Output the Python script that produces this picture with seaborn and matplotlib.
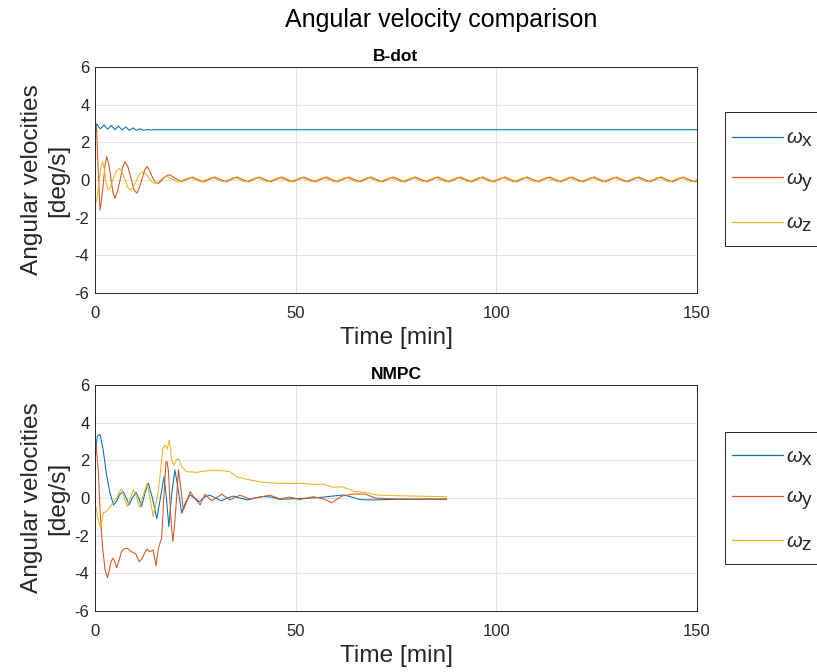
import numpy as np
import pandas as pd
import matplotlib
matplotlib.use("Agg")
import matplotlib.pyplot as plt
from matplotlib.patches import Rectangle
import seaborn as sns
try:
    import matplotlib._mathtext as _mt
    _mt.SHRINK_FACTOR = 0.95
except Exception:
    pass

# ---------------- data ----------------
labels = [r"$\omega_{\mathrm{x}}$", r"$\omega_{\mathrm{y}}$", r"$\omega_{\mathrm{z}}$"]
colors = ["#0072BD", "#D95319", "#EDB120"]

# B-dot panel
bdot_wx_step = 0.45
bdot_wx_vals = [2.85, 2.98, 2.82, 2.72, 2.82, 2.93, 2.80, 2.70, 2.79, 2.90, 2.78,
                2.68, 2.76, 2.86, 2.76, 2.66, 2.73, 2.82, 2.73, 2.64, 2.70, 2.77,
                2.70, 2.63, 2.68, 2.72, 2.67, 2.64, 2.66, 2.68, 2.67, 2.66, 2.67]
bdot_wx_end_t = [150.0]
bdot_wx_end_v = [2.67]

bdot_wy_t = [0, 0.35, 0.8, 1.25, 1.6, 2.07, 2.5, 2.9, 3.4, 3.95,
             4.5, 5.0, 5.6, 6.25, 6.9, 7.5, 8.2, 8.95, 9.7, 10.4,
             11.0, 11.7, 12.4, 13.0, 13.6, 14.4, 15.1, 15.8, 16.5, 17.3, 18.0]
bdot_wy_v = [2.3, 2.9, 0.5, -1.6, -1.1, -0.2, 0.8, 1.24, 0.9, 0.1,
             -0.7, -0.96, -0.6, 0.0, 0.7, 0.97, 0.7, 0.1, -0.5, -0.7,
             -0.45, 0.05, 0.55, 0.71, 0.5, 0.1, -0.12, -0.18, -0.05, 0.15, 0.25]
bdot_wy_tail_start = 18.7
bdot_tail_step = 1.39
bdot_wy_tail = [0.27, 0.08, -0.09, 0.03, 0.16, 0.03, -0.11, 0.03,
                0.16, 0.03, -0.10, 0.03, 0.16, 0.03, -0.10, 0.03,
                0.16, 0.03, -0.10, 0.03, 0.16, 0.03, -0.10, 0.03,
                0.16, 0.03, -0.10, 0.03, 0.16, 0.03, -0.10, 0.03,
                0.16, 0.03, -0.10, 0.03, 0.16, 0.03, -0.10, 0.03,
                0.16, 0.03, -0.10, 0.03, 0.16, 0.03, -0.10, 0.03,
                0.16, 0.03, -0.10, 0.03, 0.16, 0.03, -0.10, 0.03,
                0.16, 0.03, -0.10, 0.03, 0.16, 0.03, -0.10, 0.03,
                0.16, 0.03, -0.10, 0.03, 0.16, 0.03, -0.10, 0.03,
                0.16, 0.03, -0.10, 0.03, 0.16, 0.03, -0.10, 0.03,
                0.16, 0.03, -0.10, 0.03, 0.16, 0.03, -0.10, 0.03,
                0.16, 0.03, -0.10, 0.03, 0.16, 0.03, -0.10, 0.03]

bdot_wz_t = [0, 0.5, 1.0, 1.5, 1.9, 2.3, 2.7, 3.3, 3.8, 4.6,
             5.4, 6.1, 6.8, 7.5, 8.2, 8.9, 9.6, 10.4, 11.2, 12.0,
             12.8, 13.6, 14.3, 15.0, 15.8, 16.6, 17.3]
bdot_wz_v = [-1.3, -1.0, -0.1, 0.7, 0.97, 0.6, -0.1, -0.53, -0.4, 0.1,
             0.5, 0.62, 0.4, 0.0, -0.4, -0.53, -0.35, 0.0, 0.35, 0.44,
             0.3, 0.05, -0.12, -0.18, -0.1, 0.05, 0.15]
bdot_wz_tail_start = 18.0
bdot_wz_tail = [0.18, 0.03, -0.12, 0.02, 0.14, 0.02, -0.10, 0.02,
                0.14, 0.02, -0.10, 0.02, 0.14, 0.02, -0.10, 0.02,
                0.14, 0.02, -0.10, 0.02, 0.14, 0.02, -0.10, 0.02,
                0.14, 0.02, -0.10, 0.02, 0.14, 0.02, -0.10, 0.02,
                0.14, 0.02, -0.10, 0.02, 0.14, 0.02, -0.10, 0.02,
                0.14, 0.02, -0.10, 0.02, 0.14, 0.02, -0.10, 0.02,
                0.14, 0.02, -0.10, 0.02, 0.14, 0.02, -0.10, 0.02,
                0.14, 0.02, -0.10, 0.02, 0.14, 0.02, -0.10, 0.02,
                0.14, 0.02, -0.10, 0.02, 0.14, 0.02, -0.10, 0.02,
                0.14, 0.02, -0.10, 0.02, 0.14, 0.02, -0.10, 0.02,
                0.14, 0.02, -0.10, 0.02, 0.14, 0.02, -0.10, 0.02,
                0.14, 0.02, -0.10, 0.02, 0.14, 0.02, -0.10, 0.02, 0.14]

# NMPC panel
nmpc_wx_t = [0, 0.6, 1.25, 2.0, 2.9, 3.7, 4.6, 5.3, 6.2, 7.05,
             7.8, 8.5, 9.3, 10.2, 10.9, 11.6, 12.5, 13.3, 14.3, 15.4,
             16.3, 17.2, 17.8, 18.4, 19.1, 19.9, 20.7, 21.6, 22.6, 23.7,
             24.8, 26.0, 27.3, 28.6, 30, 31.5, 33, 34.5, 36, 38,
             40, 42, 44, 46, 48.5, 51, 54, 57, 60, 62,
             64, 66, 67.7, 70, 75, 80, 87.6]
nmpc_wx_v = [2.3, 3.3, 3.38, 2.6, 1.2, 0.3, -0.37, -0.2, 0.2, 0.34,
             0.0, -0.37, 0.0, 0.3, 0.0, -0.44, 0.3, 0.78, 0.0, -1.1,
             0.0, 1.13, 0.0, -1.52, 0.2, 1.49, 0.5, -0.81, -0.2, 0.16,
             0.0, -0.2, 0.05, 0.15, 0.0, -0.15, 0.0, 0.1, 0.0, -0.1,
             0.0, 0.08, 0.05, -0.07, -0.05, -0.03, 0.0, 0.05, 0.12, 0.16,
             0.05, -0.08, -0.1, -0.1, -0.07, -0.06, -0.05]

nmpc_wy_t = [0, 0.25, 0.8, 1.3, 1.9, 2.5, 3.1, 3.5, 3.9, 4.4,
             4.8, 5.4, 6.0, 6.6, 7.2, 7.9, 8.5, 9.1, 9.6, 10.2,
             11.0, 11.8, 12.4, 12.9, 13.7, 14.5, 15.2, 15.8, 16.6, 17.0,
             17.4, 17.7, 18.0, 18.3, 18.9, 19.4, 19.8, 20.2, 20.8, 21.4,
             22.0, 23.0, 23.7, 25.0, 26.2, 27.4, 29.1, 31.6, 33.6, 36.1,
             38.6, 41, 43.6, 46.1, 48.5, 51, 54.4, 57, 59, 61.5,
             64.4, 67.3, 69.8, 75, 87.6]
nmpc_wy_v = [2.6, 2.85, 1.5, -0.8, -2.65, -3.8, -4.23, -3.9, -3.45, -3.2,
             -3.3, -3.7, -3.3, -2.85, -2.7, -2.67, -2.75, -2.85, -2.9, -2.99,
             -3.38, -3.2, -2.9, -2.71, -2.85, -2.77, -3.6, -2.67, -2.14, -0.55,
             1.0, 1.93, 1.9, 1.4, -1.08, -2.32, -1.5, -0.37, 1.49, 0.5,
             -0.64, -0.1, 0.34, -0.05, -0.37, 0.2, -0.15, 0.2, -0.1, 0.15,
             -0.05, 0.05, 0.15, -0.05, 0.05, -0.08, 0.07, -0.05, -0.25, 0.1,
             0.21, 0.21, 0.0, -0.05, -0.08]

nmpc_wz_t = [0, 0.25, 0.8, 1.4, 2.1, 2.9, 3.7, 4.6, 5.4, 6.0,
             6.6, 7.3, 8.1, 8.8, 9.6, 10.4, 11.2, 12.1, 13.0, 13.7,
             14.5, 15.2, 15.8, 16.4, 16.9, 17.5, 18.0, 18.5, 19.1, 19.7,
             20.2, 20.8, 21.6, 22.8, 25.3, 28, 30.3, 33.6, 35.3, 38.6,
             41.9, 45.3, 48.6, 51, 54.4, 56.9, 59.4, 61.5, 64.8, 67.3,
             70.2, 75.1, 87.6]
nmpc_wz_v = [-0.3, -0.46, -1.2, -1.61, -0.8, -0.7, -0.5, -0.2, 0.0, 0.3,
             0.48, 0.0, -0.46, 0.0, 0.44, 0.0, -0.5, 0.2, 0.78, 0.0,
             -0.99, -0.3, 0.4, 1.6, 2.64, 2.8, 2.6, 3.08, 2.02, 1.75,
             2.0, 2.1, 1.67, 1.4, 1.36, 1.45, 1.49, 1.4, 1.12, 0.96,
             0.83, 0.78, 0.77, 0.78, 0.73, 0.73, 0.57, 0.6, 0.34, 0.3,
             0.16, 0.12, 0.07]

x_ticks = [0, 50, 100, 150]
y_ticks = [-6, -4, -2, 0, 2, 4, 6]
titles = ["B-dot", "NMPC"]

# ---------------- assemble ----------------
def frame(t, v, name):
    return pd.DataFrame({"t": np.asarray(t, float), "v": np.asarray(v, float), "s": name})

bdot_wx_t = list(bdot_wx_step * np.arange(len(bdot_wx_vals))) + bdot_wx_end_t
bdot_wy_full_t = bdot_wy_t + list(bdot_wy_tail_start + bdot_tail_step * np.arange(len(bdot_wy_tail)))
bdot_wz_full_t = bdot_wz_t + list(bdot_wz_tail_start + bdot_tail_step * np.arange(len(bdot_wz_tail)))

df_top = pd.concat([
    frame(bdot_wx_t, bdot_wx_vals + bdot_wx_end_v, labels[0]),
    frame(bdot_wy_full_t, bdot_wy_v + bdot_wy_tail, labels[1]),
    frame(bdot_wz_full_t, bdot_wz_v + bdot_wz_tail, labels[2]),
], ignore_index=True)
df_bot = pd.concat([
    frame(nmpc_wx_t, nmpc_wx_v, labels[0]),
    frame(nmpc_wy_t, nmpc_wy_v, labels[1]),
    frame(nmpc_wz_t, nmpc_wz_v, labels[2]),
], ignore_index=True)

# ---------------- style ----------------
sns.set_style("whitegrid")
plt.rcParams["font.family"] = ["Liberation Sans", "DejaVu Sans"]
plt.rcParams["mathtext.fontset"] = "custom"
plt.rcParams["mathtext.rm"] = "Liberation Sans"
plt.rcParams["mathtext.it"] = "Liberation Sans:italic"
plt.rcParams["axes.unicode_minus"] = False

fig = plt.figure(figsize=(8.17, 6.72), dpi=100)
fig.patch.set_facecolor("white")
W, H = 817.0, 672.0
ax_left, ax_right = 95 / W, 697 / W
axes = [
    fig.add_axes([ax_left, 1 - 293 / H, ax_right - ax_left, 226 / H]),
    fig.add_axes([ax_left, 1 - 611 / H, ax_right - ax_left, 226 / H]),
]
# legend frame boxes (pixels from top-left): left, top, bottom ; first-row anchor
legend_boxes = [(724.5, 111.7, 245.7), (724.5, 431.5, 564.0)]
legend_anchor_tops = [129.0, 447.5]
pal = dict(zip(labels, colors))

for ax, df, title, box, atop in zip(axes, [df_top, df_bot], titles,
                                     legend_boxes, legend_anchor_tops):
    sns.lineplot(data=df, x="t", y="v", hue="s", palette=pal, estimator=None,
                 sort=False, linewidth=0.75, ax=ax)
    ax.set_xlim(0, 150)
    ax.set_ylim(-6, 6)
    ax.set_xticks(x_ticks)
    ax.set_yticks(y_ticks)
    ax.grid(True, color="#e3e3e3", linewidth=0.8)
    for sp in ax.spines.values():
        sp.set_visible(True)
        sp.set_color("#262626")
        sp.set_linewidth(0.7)
    ax.tick_params(direction="in", length=4, width=0.7, colors="#262626",
                   labelsize=12, labelcolor="#262626")
    ax.tick_params(axis="x", pad=9)
    ax.tick_params(axis="y", pad=4)
    ax.set_xlabel("Time [min]", fontsize=17.6, color="#262626")
    ax.set_ylabel("Angular velocities\n[deg/s]", fontsize=17.6, color="#262626",
                  linespacing=1.3)
    ax.xaxis.set_label_coords(0.5, -0.152)
    ax.yaxis.set_label_coords(-0.042, 0.5)
    ax.set_title(title, fontsize=12.5, fontweight="bold", color="black", pad=4.5)
    handles, labs = ax.get_legend_handles_labels()
    leg = ax.legend(handles, labs, loc="upper left",
                    bbox_to_anchor=(731.7 / W, 1 - atop / H),
                    bbox_transform=fig.transFigure, borderaxespad=0,
                    fontsize=14.5, handlelength=2.55, handletextpad=0.15,
                    labelspacing=1.0, frameon=False, borderpad=0.0)
    for ln in leg.get_lines():
        ln.set_linewidth(0.9)
    left, top, bottom = box
    fig.add_artist(Rectangle((left / W, 1 - bottom / H), (830 - left) / W,
                             (bottom - top) / H, transform=fig.transFigure,
                             fill=False, edgecolor="#262626", linewidth=0.7,
                             clip_on=False))

fig.text(441 / W, 1 - 20 / H, "Angular velocity comparison", ha="center",
         va="center", fontsize=18, color="black")

fig.savefig("out.png", dpi=100)
